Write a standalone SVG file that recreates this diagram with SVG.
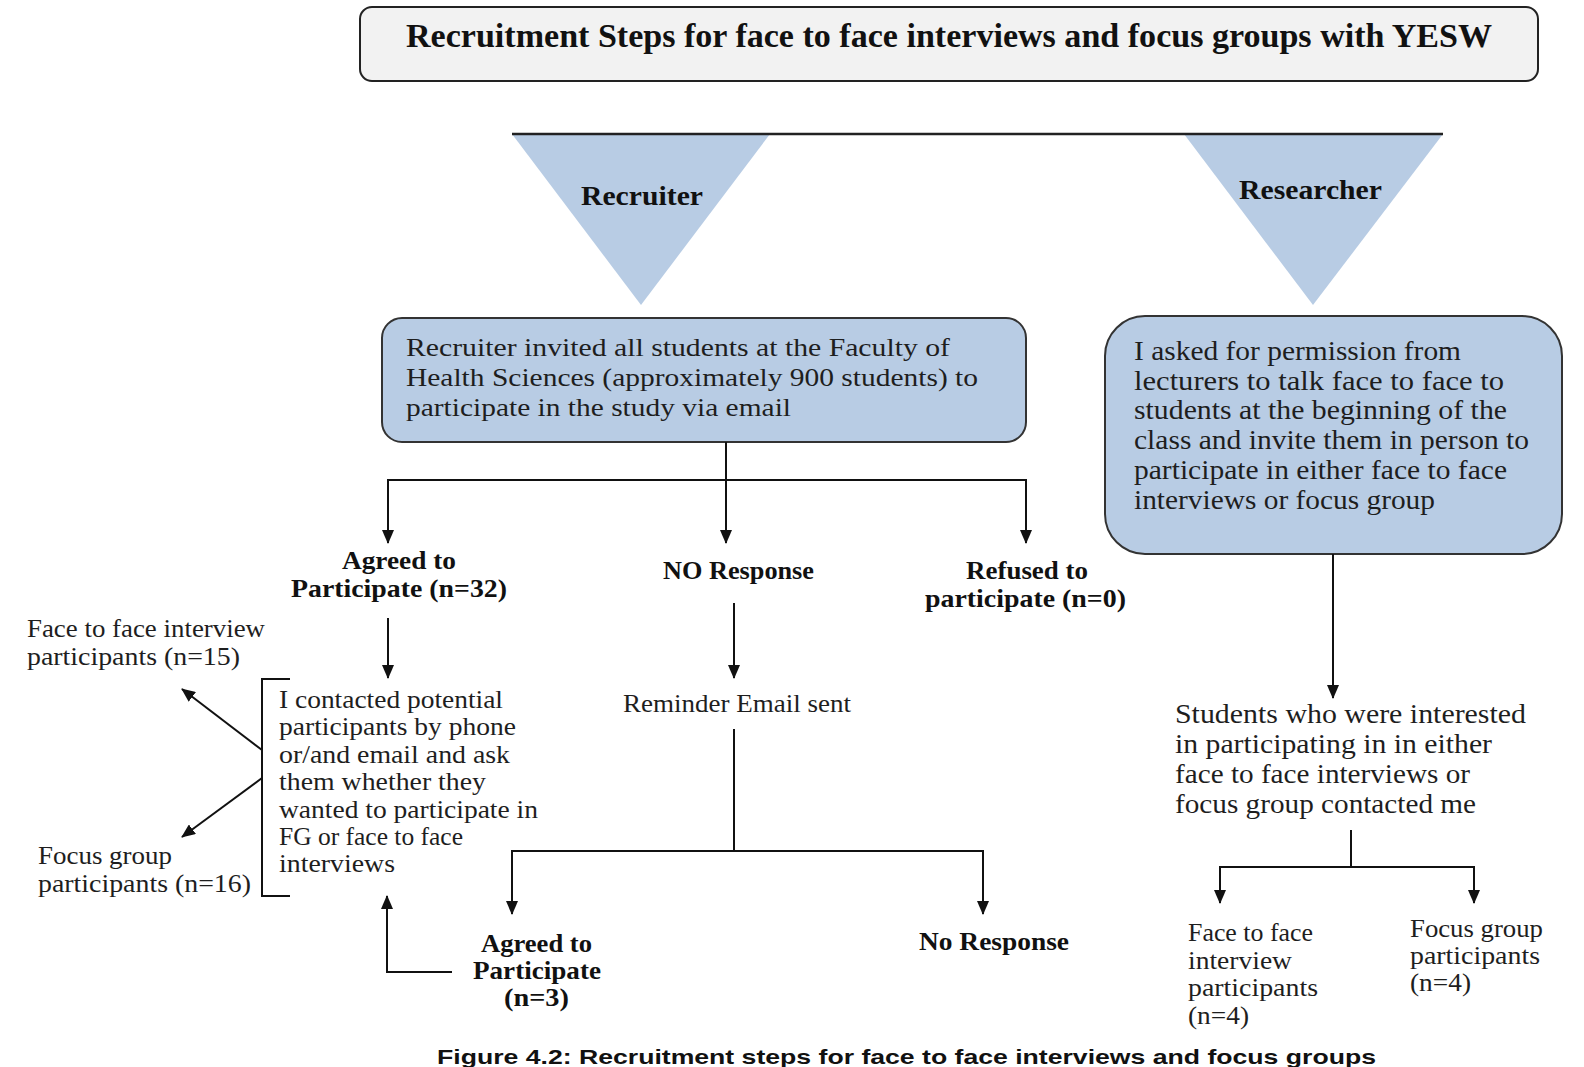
<svg xmlns="http://www.w3.org/2000/svg" width="1584" height="1067" viewBox="0 0 1584 1067">
<style>
.t{font-family:"Liberation Serif","DejaVu Serif",serif;font-size:26px;fill:#1e1e1e}
.tb{font-family:"Liberation Serif","DejaVu Serif",serif;font-size:25.5px;font-weight:bold;fill:#111}
.tl{font-family:"Liberation Serif","DejaVu Serif",serif;font-size:27.5px;fill:#1e1e1e}
.big{font-size:33px}
.mid{font-size:27px}
.ln{fill:none;stroke:#111;stroke-width:2}
.blue{fill:#b8cce4}
</style>
<defs>
<marker id="ah" viewBox="0 0 14 12" refX="13" refY="6" markerWidth="14" markerHeight="12" orient="auto" markerUnits="userSpaceOnUse">
<path d="M0,0 L14,6 L0,12 z" fill="#111"/>
</marker>
</defs>
<rect width="1584" height="1067" fill="#fff"/>

<g id="title">
<rect x="360" y="7" width="1178" height="74" rx="12" fill="#f2f2f2" stroke="#222" stroke-width="2"/>
<text class="tb big" x="406" y="47" textLength="1086" lengthAdjust="spacingAndGlyphs">Recruitment Steps for face to face interviews and focus groups with YESW</text>
</g>

<g id="recruiter">
<polygon class="blue" points="512,134 770,134 641,305"/>
<text class="tb mid" x="581" y="205" textLength="122" lengthAdjust="spacingAndGlyphs">Recruiter</text>
</g>
<g id="researcher">
<polygon class="blue" points="1184,134 1443,134 1313,305"/>
<text class="tb mid" x="1239" y="199" textLength="143" lengthAdjust="spacingAndGlyphs">Researcher</text>
</g>

<g id="recruiter-invite">
<rect x="382" y="318" width="644" height="124" rx="20" class="blue" stroke="#333" stroke-width="2"/>
<text class="t" x="406" y="356" textLength="544" lengthAdjust="spacingAndGlyphs">Recruiter invited all students at the  Faculty of</text>
<text class="t" x="406" y="386" textLength="572" lengthAdjust="spacingAndGlyphs">Health Sciences (approximately 900 students) to</text>
<text class="t" x="406" y="416" textLength="385" lengthAdjust="spacingAndGlyphs">participate in the study via email</text>
</g>

<g id="researcher-invite">
<rect x="1105" y="316" width="457" height="238" rx="40" class="blue" stroke="#333" stroke-width="2"/>
<text class="tl" x="1134" y="360" textLength="327" lengthAdjust="spacingAndGlyphs">I asked for permission from</text>
<text class="tl" x="1134" y="390" textLength="370" lengthAdjust="spacingAndGlyphs">lecturers to talk face to face to</text>
<text class="tl" x="1134" y="419" textLength="373" lengthAdjust="spacingAndGlyphs">students at the beginning of the</text>
<text class="tl" x="1134" y="449" textLength="395" lengthAdjust="spacingAndGlyphs">class and invite them in person to</text>
<text class="tl" x="1134" y="479" textLength="373" lengthAdjust="spacingAndGlyphs">participate in either face to face</text>
<text class="tl" x="1134" y="509" textLength="301" lengthAdjust="spacingAndGlyphs">interviews or focus group</text>
</g>

<g id="agreed32">
<text class="tb" x="342" y="569" textLength="114" lengthAdjust="spacingAndGlyphs">Agreed to</text>
<text class="tb" x="291" y="597" textLength="216" lengthAdjust="spacingAndGlyphs">Participate (n=32)</text>
</g>
<g id="noresponse1">
<text class="tb" x="663" y="579" textLength="151" lengthAdjust="spacingAndGlyphs">NO Response</text>
</g>
<g id="refused">
<text class="tb" x="966" y="579" textLength="122" lengthAdjust="spacingAndGlyphs">Refused to</text>
<text class="tb" x="925" y="607" textLength="201" lengthAdjust="spacingAndGlyphs">participate (n=0)</text>
</g>

<g id="contacted">
<path class="ln" d="M290,679 H262 V896 H290"/>
<text class="t" x="279" y="708" textLength="224" lengthAdjust="spacingAndGlyphs">I contacted potential</text>
<text class="t" x="279" y="735" textLength="237" lengthAdjust="spacingAndGlyphs">participants by phone</text>
<text class="t" x="279" y="763" textLength="231" lengthAdjust="spacingAndGlyphs">or/and email and ask</text>
<text class="t" x="279" y="790" textLength="207" lengthAdjust="spacingAndGlyphs">them whether they</text>
<text class="t" x="279" y="818" textLength="259" lengthAdjust="spacingAndGlyphs">wanted to participate in</text>
<text class="t" x="279" y="845" textLength="184" lengthAdjust="spacingAndGlyphs">FG or face to face</text>
<text class="t" x="279" y="872" textLength="116" lengthAdjust="spacingAndGlyphs">interviews</text>
</g>

<g id="f2f15">
<text class="t" x="27" y="637" textLength="238" lengthAdjust="spacingAndGlyphs">Face to face interview</text>
<text class="t" x="27" y="665" textLength="213" lengthAdjust="spacingAndGlyphs">participants (n=15)</text>
</g>
<g id="fg16">
<text class="t" x="38" y="864" textLength="134" lengthAdjust="spacingAndGlyphs">Focus group</text>
<text class="t" x="38" y="892" textLength="213" lengthAdjust="spacingAndGlyphs">participants (n=16)</text>
</g>

<g id="reminder">
<text class="t" x="623" y="712" textLength="228" lengthAdjust="spacingAndGlyphs">Reminder Email sent</text>
</g>

<g id="agreed3">
<text class="tb" x="481" y="952" textLength="111" lengthAdjust="spacingAndGlyphs">Agreed to</text>
<text class="tb" x="473" y="979" textLength="128" lengthAdjust="spacingAndGlyphs">Participate</text>
<text class="tb" x="504" y="1006" textLength="65" lengthAdjust="spacingAndGlyphs">(n=3)</text>
</g>
<g id="noresponse2">
<text class="tb" x="919" y="950" textLength="150" lengthAdjust="spacingAndGlyphs">No Response</text>
</g>

<g id="students">
<text class="tl" x="1175" y="723" textLength="351" lengthAdjust="spacingAndGlyphs">Students who were interested</text>
<text class="tl" x="1175" y="753" textLength="317" lengthAdjust="spacingAndGlyphs">in participating in in either</text>
<text class="tl" x="1175" y="783" textLength="295" lengthAdjust="spacingAndGlyphs">face to face interviews or</text>
<text class="tl" x="1175" y="813" textLength="301" lengthAdjust="spacingAndGlyphs">focus group contacted me</text>
</g>

<g id="f2f4">
<text class="t" x="1188" y="941" textLength="125" lengthAdjust="spacingAndGlyphs">Face to face</text>
<text class="t" x="1188" y="969" textLength="104" lengthAdjust="spacingAndGlyphs">interview</text>
<text class="t" x="1188" y="996" textLength="130" lengthAdjust="spacingAndGlyphs">participants</text>
<text class="t" x="1188" y="1024" textLength="61" lengthAdjust="spacingAndGlyphs">(n=4)</text>
</g>
<g id="fg4">
<text class="t" x="1410" y="937" textLength="133" lengthAdjust="spacingAndGlyphs">Focus group</text>
<text class="t" x="1410" y="964" textLength="130" lengthAdjust="spacingAndGlyphs">participants</text>
<text class="t" x="1410" y="991" textLength="61" lengthAdjust="spacingAndGlyphs">(n=4)</text>
</g>

<g id="connectors">
<line x1="512" y1="134" x2="1443" y2="134" stroke="#222" stroke-width="2.5"/>
<path class="ln" d="M726,442 V543" marker-end="url(#ah)"/>
<path class="ln" d="M388,543 V480 H1026 V543" marker-end="url(#ah)"/>
<path class="ln" d="M388,480 V543" marker-end="url(#ah)"/>
<path class="ln" d="M388,618 V678" marker-end="url(#ah)"/>
<path class="ln" d="M734,603 V678" marker-end="url(#ah)"/>
<path class="ln" d="M262,750 L182,689" marker-end="url(#ah)"/>
<path class="ln" d="M262,778 L182,837" marker-end="url(#ah)"/>
<path class="ln" d="M734,729 V851"/>
<path class="ln" d="M512,914 V851 H983 V914" marker-end="url(#ah)"/>
<path class="ln" d="M512,851 V914" marker-end="url(#ah)"/>
<path class="ln" d="M452,972 H387 V896" marker-end="url(#ah)"/>
<path class="ln" d="M1333,554 V698" marker-end="url(#ah)"/>
<path class="ln" d="M1351,830 V867"/>
<path class="ln" d="M1220,903 V867 H1474 V903" marker-end="url(#ah)"/>
<path class="ln" d="M1220,867 V903" marker-end="url(#ah)"/>
</g>

<g id="caption">
<text x="437" y="1064" font-family="Liberation Sans, Arial, sans-serif" font-weight="bold" font-size="21" fill="#111" textLength="939" lengthAdjust="spacingAndGlyphs">Figure 4.2: Recruitment steps for face to face interviews and focus groups</text>
</g>
</svg>
